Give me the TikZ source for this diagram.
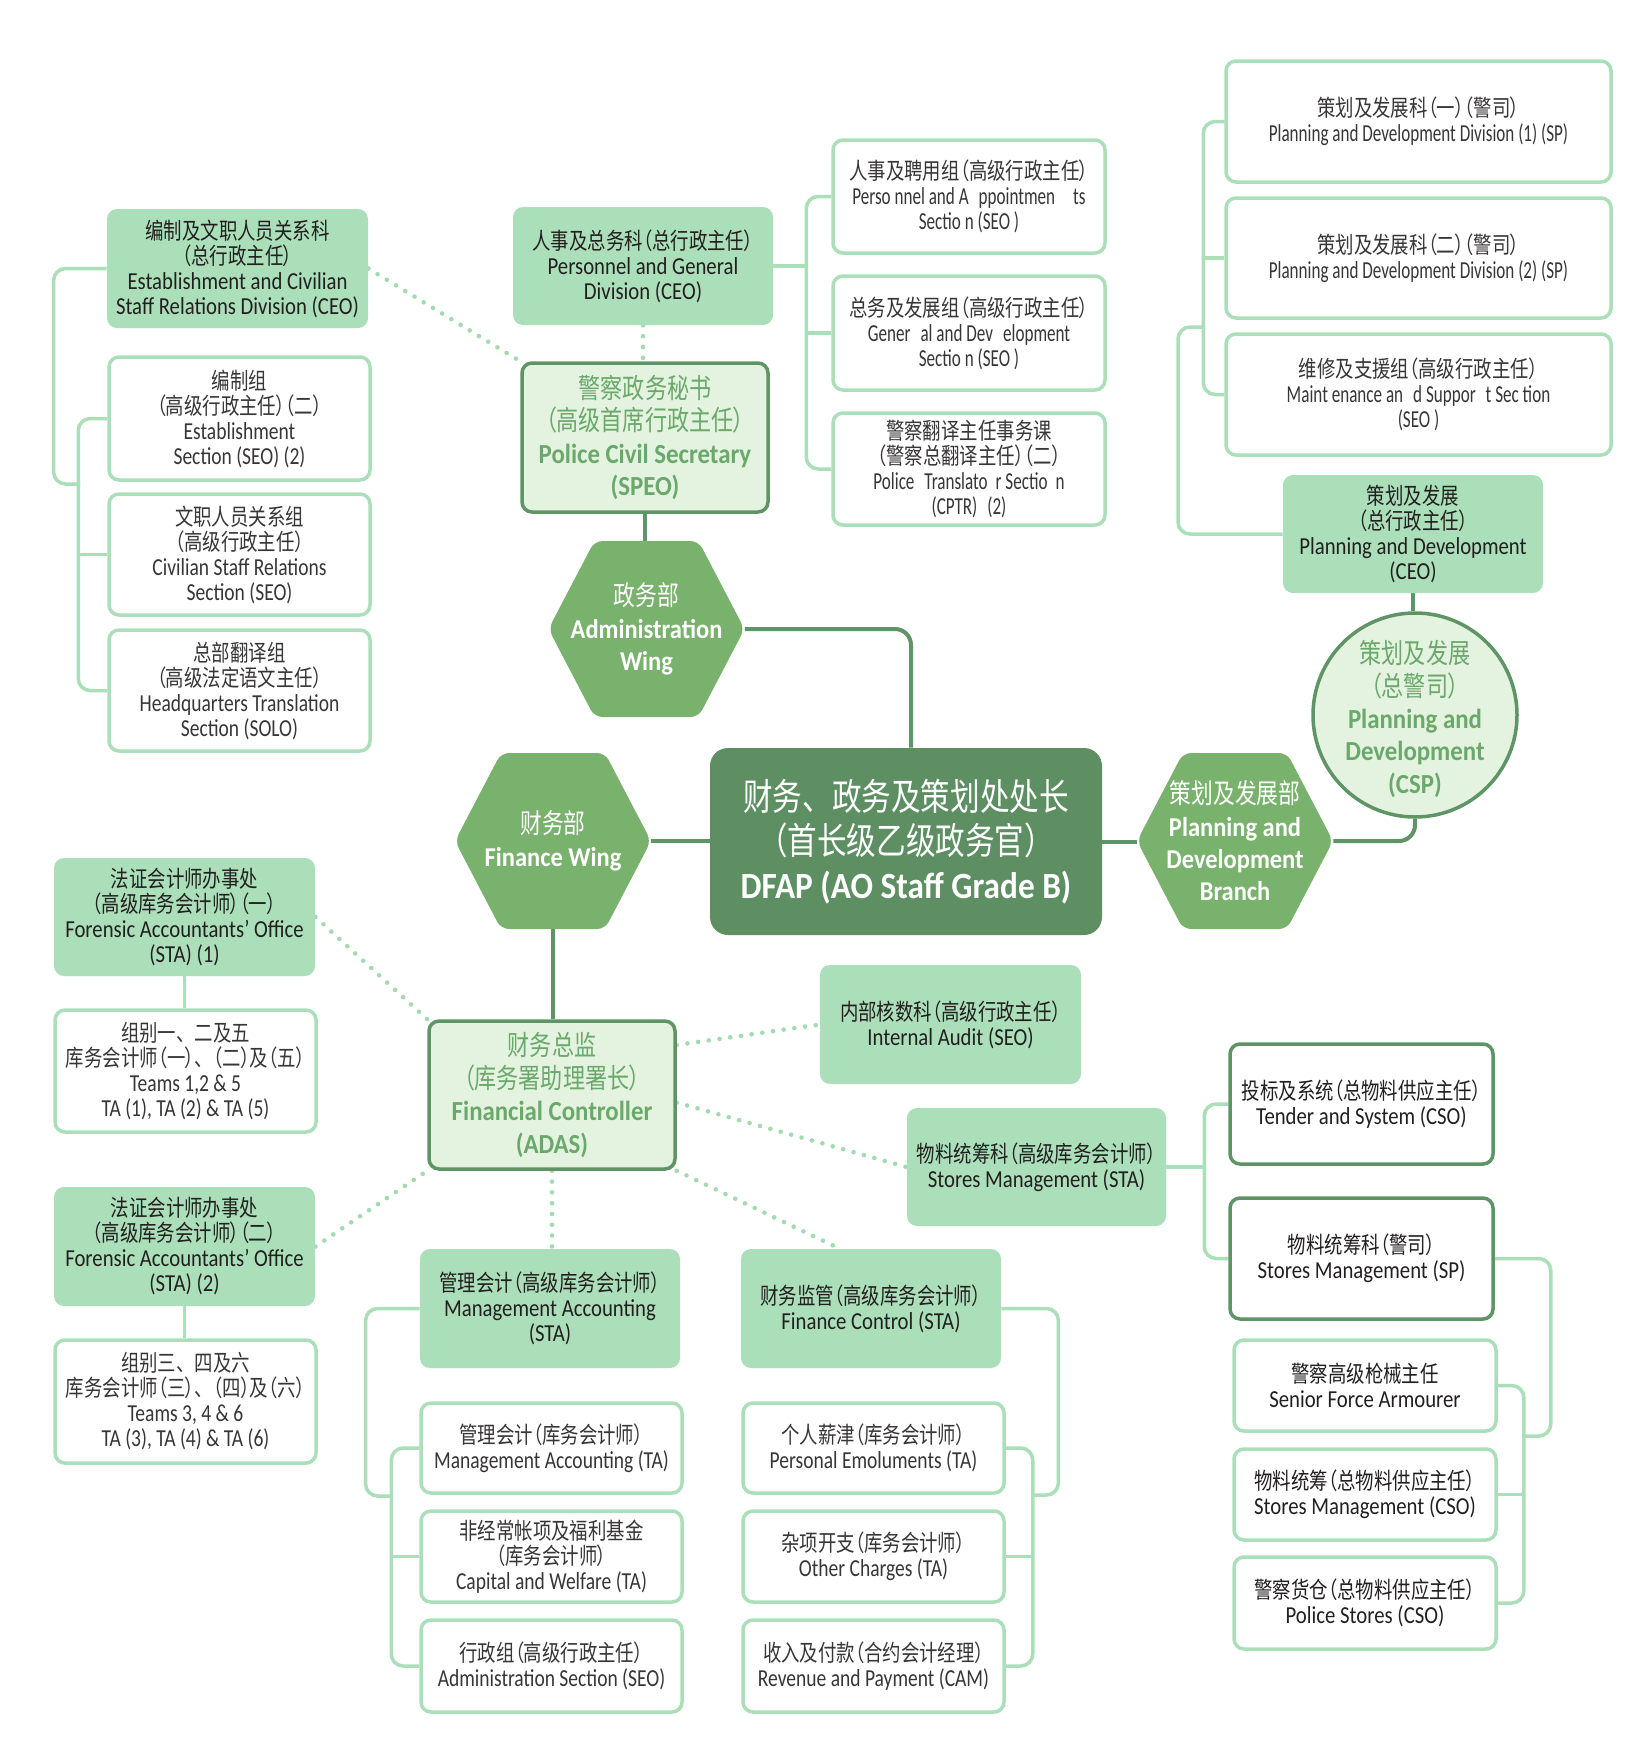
\documentclass[tikz,border=0pt]{standalone}
\usepackage{fontspec}
\setmainfont[FakeStretch=0.9]{Carlito}
\newfontfamily\boxlat[FakeStretch=0.85]{Carlito}
\newfontfamily\lightlat[FakeStretch=0.80]{Carlito}
\newfontfamily\narrowlat[FakeStretch=0.70]{Carlito}
\newfontfamily\zhfont[FakeStretch=0.8,RawFeature=+palt]{Noto Sans CJK SC}
\newfontfamily\zhsmall[FakeStretch=0.8,Scale=0.943,RawFeature=+palt]{Noto Sans CJK SC}
\newfontfamily\zhfull[FakeStretch=0.8]{Noto Sans CJK SC}
\usetikzlibrary{calc}
\pgfdeclarelayer{bg}
\pgfsetlayers{bg,main}
\definecolor{lg}{HTML}{ABDFB9}
\definecolor{lgd}{HTML}{A3DAB0}
\definecolor{dg}{HTML}{5E9466}
\definecolor{dfapc}{HTML}{5D8F63}
\definecolor{hexc}{HTML}{79B26C}
\definecolor{pale}{HTML}{E3F3DF}
\definecolor{gtxt}{HTML}{6AA86B}
\definecolor{txt}{HTML}{231F20}
\definecolor{ltxt}{HTML}{383536}
\let\zhcur\zhfont
\newcommand\zh[1]{{\zhcur #1}}
\newcommand\zhf[1]{{\zhfull #1}}
\newcommand\dun{、\hspace{0.4em}}
\newcommand\nfont{\fontsize{12.2}{12.5}\selectfont\let\zhcur\zhsmall}
\newcommand\bfont{\fontsize{13.8}{16.2}\selectfont}
\newcommand\hfont{\fontsize{13.6}{16.2}\selectfont}
\newcommand\dfont{\fontsize{18.5}{22}\selectfont}
\tikzset{
  basebox/.style={rounded corners=5pt, inner sep=0pt, align=center, text=txt, font={\nfont\boxlat}},
  fbox/.style={basebox, fill=lg},
  rbox/.style={basebox, fill=white, draw=lg, line width=1.75pt},
  wbox/.style={rbox, text=ltxt, font={\nfont\lightlat}},
  nbox/.style={rbox, text=ltxt, font={\nfont\narrowlat}},
  dbox/.style={basebox, fill=white, draw=dg, line width=1.75pt},
  kbox/.style={basebox, fill=pale, draw=dg, line width=1.75pt, text=gtxt, font=\bfont},
  dfapbox/.style={rounded corners=9pt, inner sep=0pt, align=center, fill=dfapc, text=white, font=\dfont},
  hexlbl/.style={inner sep=0pt, align=center, text=white, font=\hfont},
  cspc/.style={circle, inner sep=0pt, minimum size=102pt, fill=pale, draw=dg, line width=1.75pt},
  csptxt/.style={inner sep=0pt, align=center, text=gtxt, font=\bfont},
  lgl/.style={draw=lg, line width=1.75pt},
  dgl/.style={draw=dg, line width=2pt},
  dots/.style={draw=lgd, line width=2.3pt, line cap=round, dash pattern=on 0pt off 5.4pt},
}
\newcommand\bx[7]{%
  \pgfmathsetmacro\bxcx{(#3+#5)/2}%
  \pgfmathsetmacro\bxcy{(#4+#6)/2}%
  \pgfmathsetmacro\bxw{(#5-#3)/2}%
  \pgfmathsetmacro\bxh{(#6-#4)/2}%
  \node[#2, minimum width=\bxw pt, minimum height=\bxh pt] (#1) at (\bxcx,\bxcy) {#7};}
\newcommand\hexnode[4]{%
  \fill[hexc, rounded corners=4pt] ($(#2,#3)+(-98,0)$) -- ($(#2,#3)+(-52,-88)$) -- ($(#2,#3)+(52,-88)$) -- ($(#2,#3)+(98,0)$) -- ($(#2,#3)+(52,88)$) -- ($(#2,#3)+(-52,88)$) -- cycle;
  \node[hexlbl, minimum width=98pt, minimum height=88pt] (#1) at (#2,#3) {#4};}
\begin{document}
\begin{tikzpicture}[x=0.5pt,y=-0.5pt]
\useasboundingbox (0,0) rectangle (1638,1761);
% ---------- administration side ----------
\bx{estdiv}{fbox}{107}{209}{368}{328}{\zh{编制及文职人员关系科}\\\zh{（总行政主任）}\\Establishment and Civilian\\Staff Relations Division (CEO)}
\bx{estsec}{wbox}{109}{357}{370}{480}{\zh{编制组}\\\zh{（高级行政主任）（二）}\\Establishment\\Section (SEO) (2)}
\bx{civsec}{wbox}{109}{494}{370}{615}{\zh{文职人员关系组}\\\zh{（高级行政主任）}\\Civilian Staff Relations\\Section (SEO)}
\bx{hqsec}{wbox}{109}{630}{370}{751}{\zh{总部翻译组}\\\zh{（高级法定语文主任）}\\Headquarters Translation\\Section (SOLO)}
\bx{pgdiv}{fbox}{513}{207}{773}{325}{\zh{人事及总务科（总行政主任）}\\Personnel and General\\Division (CEO)}
\bx{pcs}{kbox}{522}{363}{768}{512}{\zh{警察政务秘书}\\\zh{（高级首席行政主任）}\\\textbf{Police Civil Secretary}\\\textbf{(SPEO)}}
\bx{pa}{nbox}{833}{140}{1105}{253}{\zh{人事及聘用组（高级行政主任）}\\Perso nnel and A\hspace{5pt}ppointmen\hspace{9pt}ts\\Sectio n (SEO )}
\bx{gd}{nbox}{833}{276}{1105}{390}{\zh{总务及发展组（高级行政主任）}\\Gener\hspace{5pt}al and Dev\hspace{5pt}elopment\\Sectio n (SEO )}
\bx{pt}{nbox}{833}{413}{1105}{525}{\zh{警察翻译主任事务课}\\\zh{（警察总翻译主任）（二）}\\Police\hspace{5pt}Translato\hspace{4pt}r Sectio\hspace{4pt}n\\(CPTR)\hspace{5pt}(2)}
% ---------- planning side ----------
\bx{pd1}{nbox}{1226}{61}{1611}{182}{\zh{策划及发展科（一）（警司）}\\Planning and Development Division (1) (SP)}
\bx{pd2}{nbox}{1226}{198}{1611}{318}{\zh{策划及发展科（二）（警司）}\\Planning and Development Division (2) (SP)}
\bx{ms}{nbox}{1226}{334}{1611}{455}{\zh{维修及支援组（高级行政主任）}\\Maint enance an\hspace{5pt}d Suppor\hspace{5pt}t Sec tion\\(SEO )}
\bx{pdceo}{fbox}{1283}{475}{1543}{593}{\zh{策划及发展}\\\zh{（总行政主任）}\\Planning and Development\\(CEO)}
\node[cspc] (csp) at (1415,715) {};
\node[csptxt] (csptxt) at (1415,719) {\zh{策划及发展}\\\zh{（总警司）}\\\textbf{Planning and}\\\textbf{Development}\\\textbf{(CSP)}};
% ---------- centre ----------
\bx{dfap}{dfapbox}{710}{748}{1102}{935}{\zhf{财务、政务及策划处处长}\\\zhf{（首长级乙级政务官）}\\\textbf{DFAP (AO Staff Grade B)}}
\hexnode{adminwing}{646.5}{629}{\zh{政务部}\\\textbf{Administration}\\\textbf{Wing}}
\hexnode{finwing}{553}{841}{\zh{财务部}\\\textbf{Finance Wing}}
\hexnode{pdb}{1235}{841}{\zh{策划及发展部}\\\textbf{Planning and}\\\textbf{Development}\\\textbf{Branch}}
% ---------- finance side ----------
\bx{fao1}{fbox}{54}{858}{315}{976}{\zh{法证会计师办事处}\\\zh{（高级库务会计师）（一）}\\Forensic Accountants’ Office\\(STA) (1)}
\bx{t125}{wbox}{55}{1010}{316}{1132}{\zh{组别一\dun 二及五}\\\zh{库务会计师（一）\dun（二）及（五）}\\Teams 1,2 \& 5\\TA (1), TA (2) \& TA (5)}
\bx{fao2}{fbox}{54}{1187}{315}{1306}{\zh{法证会计师办事处}\\\zh{（高级库务会计师）（二）}\\Forensic Accountants’ Office\\(STA) (2)}
\bx{t346}{wbox}{55}{1340}{316}{1463}{\zh{组别三\dun 四及六}\\\zh{库务会计师（三）\dun（四）及（六）}\\Teams 3, 4 \& 6\\TA (3), TA (4) \& TA (6)}
\bx{fc}{kbox}{429}{1021}{675}{1169}{\zh{财务总监}\\\zh{（库务署助理署长）}\\\textbf{Financial Controller}\\\textbf{(ADAS)}}
\bx{ia}{fbox}{820}{965}{1081}{1084}{\zh{内部核数科（高级行政主任）}\\Internal Audit (SEO)}
\bx{smsta}{fbox}{907}{1108}{1166}{1226}{\zh{物料统筹科（高级库务会计师）}\\Stores Management (STA)}
\bx{masta}{fbox}{420}{1249}{680}{1368}{\zh{管理会计（高级库务会计师）}\\Management Accounting\\(STA)}
\bx{fcsta}{fbox}{741}{1249}{1001}{1368}{\zh{财务监管（高级库务会计师）}\\Finance Control (STA)}
\bx{mata}{wbox}{421}{1403}{682}{1493}{\zh{管理会计（库务会计师）}\\Management Accounting (TA)}
\bx{cw}{wbox}{421}{1511}{682}{1602}{\zh{非经常帐项及福利基金}\\\zh{（库务会计师）}\\Capital and Welfare (TA)}
\bx{adm}{wbox}{421}{1620}{682}{1712}{\zh{行政组（高级行政主任）}\\Administration Section (SEO)}
\bx{pe}{wbox}{743}{1403}{1004}{1493}{\zh{个人薪津（库务会计师）}\\Personal Emoluments (TA)}
\bx{oc}{wbox}{743}{1511}{1004}{1602}{\zh{杂项开支（库务会计师）}\\Other Charges (TA)}
\bx{rp}{wbox}{743}{1620}{1004}{1712}{\zh{收入及付款（合约会计经理）}\\Revenue and Payment (CAM)}
\bx{tender}{dbox}{1230}{1044}{1493}{1164}{\zh{投标及系统（总物料供应主任）}\\Tender and System (CSO)}
\bx{sp}{dbox}{1230}{1198}{1493}{1319}{\zh{物料统筹科（警司）}\\Stores Management (SP)}
\bx{sfa}{rbox}{1234}{1340}{1496}{1431}{\zh{警察高级枪械主任}\\Senior Force Armourer}
\bx{smcso}{rbox}{1234}{1449}{1496}{1540}{\zh{物料统筹（总物料供应主任）}\\Stores Management (CSO)}
\bx{ps}{rbox}{1234}{1557}{1496}{1649}{\zh{警察货仓（总物料供应主任）}\\Police Stores (CSO)}
\coordinate (fcstain) at ($(fcsta.north west)+(99,0)$);
% ---------- connectors ----------
\begin{pgfonlayer}{bg}
\fill[white] (0,0) rectangle (1638,1761);
\draw[lgl, rounded corners=6pt] (estdiv.west) -- ++(-53,0) |- (80,484);
\draw[lgl, rounded corners=6pt] (estsec.west) -- ++(-29,0) |- (hqsec.west);
\draw[lgl] (civsec.west) -- ++(-29,0);
\draw[lgl] (pgdiv.east) -- ++(35,0);
\draw[lgl, rounded corners=6pt] (pa.west) -- ++(-25,0) |- (pt.west);
\draw[lgl] (gd.west) -- ++(-25,0);
\draw[lgl, rounded corners=6pt] (pd1.west) -- ++(-21,0) |- (ms.west);
\draw[lgl] (pd2.west) -- ++(-21,0);
\draw[lgl, rounded corners=6pt] (1205,327) -- (1178,327) |- (pdceo.west);
\draw[lgl] (fao1.south) -- (fao1.south |- t125.north);
\draw[lgl] (fao2.south) -- (fao2.south |- t346.north);
\draw[lgl, rounded corners=6pt] (masta.west) -- ++(-54,0) |- (393,1496);
\draw[lgl, rounded corners=6pt] (mata.west) -- ++(-28,0) |- (adm.west);
\draw[lgl] (cw.west) -- ++(-28,0);
\draw[lgl, rounded corners=6pt] (fcsta.east) -- ++(57,0) |- (1031,1495);
\draw[lgl, rounded corners=6pt] (pe.east) -- ++(27,0) |- (rp.east);
\draw[lgl] (oc.east) -- ++(27,0);
\draw[lgl] (smsta.east) -- ++(40,0);
\draw[lgl, rounded corners=6pt] (tender.west) -- ++(-24,0) |- (sp.west);
\draw[lgl, rounded corners=6pt] (sp.east) -- ++(56,0) |- (1522,1436);
\draw[lgl, rounded corners=6pt] (sfa.east) -- ++(26,0) |- (ps.east);
\draw[lgl] (smcso.east) -- ++(26,0);
% dark connectors
\draw[dgl] (pcs.south) -- (pcs.south |- adminwing.north);
\draw[dgl, rounded corners=8pt] (adminwing.east) -| ([xshift=2.5pt]dfap.north);
\draw[dgl] (finwing.east) -- (finwing.east -| dfap.west);
\draw[dgl] (dfap.east) -- (dfap.east -| pdb.west);
\draw[dgl, rounded corners=8pt] (pdb.east) -| (csp.south);
\draw[dgl] (pdceo.south) -- (pdceo.south |- csp.north);
\draw[dgl] (finwing.south) -- (finwing.south |- fc.north);
% dotted
\draw[dots] (estdiv.east) -- (pcs.north west);
\draw[dots] (pgdiv.south) -- (pgdiv.south |- pcs.north);
\draw[dots] (fao1.east) -- (fc.north west);
\draw[dots] (fao2.east) -- (fc.south west);
\draw[dots] ($(fc.north east)!0.17!(fc.south east)$) -- (ia.west);
\draw[dots] ($(fc.north east)!0.55!(fc.south east)$) -- (smsta.west);
\draw[dots] (fc.south east) -- (fcstain);
\draw[dots] (fc.south) -- (fc.south |- masta.north);
\end{pgfonlayer}
\end{tikzpicture}
\end{document}
